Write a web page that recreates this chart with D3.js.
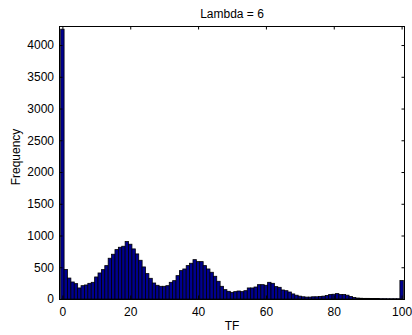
<!DOCTYPE html>
<html>
<head>
<meta charset="utf-8">
<script src="https://cdn.jsdelivr.net/npm/d3@7"></script>
<style>
  html, body { margin: 0; padding: 0; background: #fff; }
  svg { display: block; }
  text { font-family: Arial, "Liberation Sans", Helvetica, sans-serif; }
</style>
</head>
<body>
<script>
// ---- data ----
const binCenters = d3.range(0, 101);
const frequencies = [
  4250, 465, 330, 268, 242, 174, 210, 221, 247, 263,
  347, 410, 463, 526, 642, 705, 778, 815, 831, 905,
  863, 789, 710, 610, 505, 400, 326, 252, 216, 200,
  200, 210, 263, 289, 368, 447, 473, 526, 563, 620,
  589, 589, 526, 473, 421, 358, 279, 200, 147, 121,
  105, 116, 126, 116, 131, 174, 174, 189, 226, 226,
  216, 263, 247, 195, 184, 142, 131, 110, 80, 60,
  45, 35, 30, 30, 35, 35, 40, 45, 55, 70,
  75, 85, 70, 70, 60, 40, 25, 15, 12, 10,
  10, 8, 8, 7, 6, 6, 5, 5, 5, 5,
  290
];
const xTicks = [0, 20, 40, 60, 80, 100];
const yTicks = [0, 500, 1000, 1500, 2000, 2500, 3000, 3500, 4000];
const titleText = "Lambda = 6";
const xLabel = "TF";
const yLabel = "Frequency";

// ---- layout ----
const W = 412, H = 335;
const m = { left: 59, right: 7, top: 26, bottom: 36 };
const fs = 12;

const svg = d3.select("body").append("svg").attr("width", W).attr("height", H);

const x = d3.scaleLinear().domain([-1, 101]).range([m.left, W - m.right]);
const y = d3.scaleLinear().domain([0, 4300]).range([H - m.bottom, m.top]);

const bw = x(1) - x(0);

svg.append("g").selectAll("rect")
  .data(binCenters)
  .join("rect")
  .attr("x", (d) => x(d) - bw / 2)
  .attr("width", bw)
  .attr("y", (d, i) => y(frequencies[i]))
  .attr("height", (d, i) => y(0) - y(frequencies[i]))
  .attr("fill", "#00008f")
  .attr("stroke", "#000")
  .attr("stroke-width", 0.8);

const tl = 3.5;
const fmt = d3.format("d");
// bottom axis (ticks inward)
const xb = svg.append("g").attr("transform", `translate(0,${y(0)})`)
  .call(d3.axisBottom(x).tickValues(xTicks).tickFormat(fmt).tickSizeInner(-tl).tickSizeOuter(0).tickPadding(8));
const xt = svg.append("g").attr("transform", `translate(0,${m.top})`)
  .call(d3.axisTop(x).tickValues(xTicks).tickSizeInner(-tl).tickSizeOuter(0).tickFormat(""));
const yl = svg.append("g").attr("transform", `translate(${m.left},0)`)
  .call(d3.axisLeft(y).tickValues(yTicks).tickFormat(fmt).tickSizeInner(-tl).tickSizeOuter(0).tickPadding(5));
const yr = svg.append("g").attr("transform", `translate(${W - m.right},0)`)
  .call(d3.axisRight(y).tickValues(yTicks).tickSizeInner(-tl).tickSizeOuter(0).tickFormat(""));

[xb, xt, yl, yr].forEach(g => {
  g.select(".domain").remove();
  g.selectAll("line").attr("stroke", "#000").attr("stroke-width", 1);
  g.selectAll("text").attr("font-size", fs).attr("fill", "#000")
    .style("font-family", "Arial, 'Liberation Sans', Helvetica, sans-serif");
});

// box
svg.append("rect")
  .attr("x", m.left + 0.5).attr("y", m.top + 0.5)
  .attr("width", W - m.right - m.left - 1).attr("height", H - m.bottom - m.top)
  .attr("fill", "none").attr("stroke", "#000").attr("stroke-width", 1);

// title & labels
svg.append("text").attr("x", (m.left + W - m.right) / 2).attr("y", 18)
  .attr("text-anchor", "middle").attr("font-size", fs).text(titleText);
svg.append("text").attr("x", (m.left + W - m.right) / 2).attr("y", 330)
  .attr("text-anchor", "middle").attr("font-size", fs).text(xLabel);
svg.append("text")
  .attr("transform", `translate(20,157) rotate(-90)`)
  .attr("text-anchor", "middle").attr("font-size", fs).text(yLabel);
</script>
</body>
</html>
